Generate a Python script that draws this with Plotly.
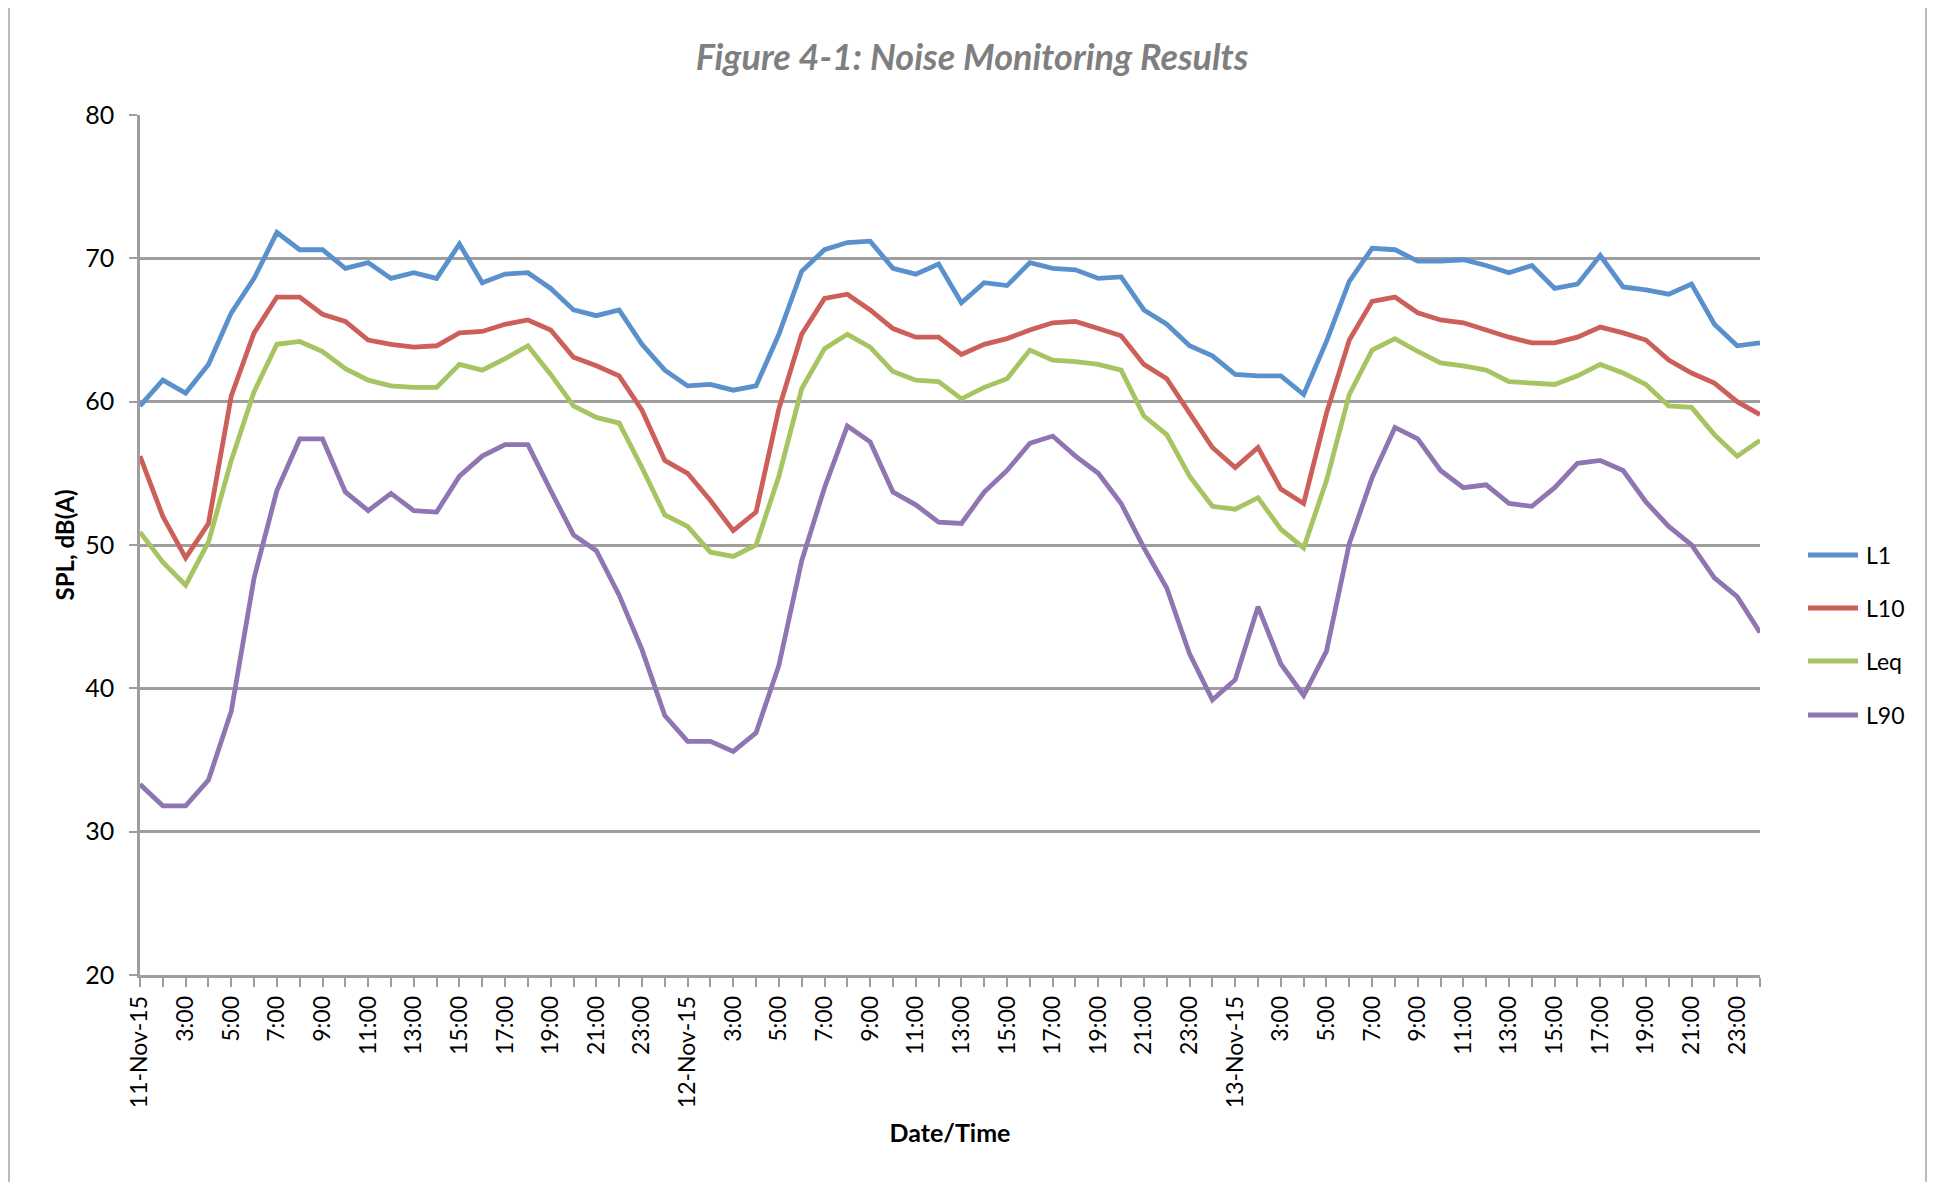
import plotly.graph_objects as go

# ---- data (hourly, 11-Nov-15 .. 13-Nov-15) ----
L1 = [59.7, 61.5, 60.6, 62.6, 66.2, 68.6, 71.8, 70.6, 70.6, 69.3, 69.7, 68.6, 69.0, 68.6, 71.0, 68.3,
      68.9, 69.0, 67.9, 66.4, 66.0, 66.4, 64.0, 62.2,
      61.1, 61.2, 60.8, 61.1, 64.7, 69.1, 70.6, 71.1, 71.2, 69.3, 68.9, 69.6, 66.9, 68.3, 68.1, 69.7,
      69.3, 69.2, 68.6, 68.7, 66.4, 65.4, 63.9, 63.2,
      61.9, 61.8, 61.8, 60.5, 64.2, 68.4, 70.7, 70.6, 69.8, 69.8, 69.9, 69.5, 69.0, 69.5, 67.9, 68.2,
      70.2, 68.0, 67.8, 67.5, 68.2, 65.4, 63.9, 64.1]
L10 = [56.2, 52.0, 49.1, 51.5, 60.4, 64.8, 67.3, 67.3, 66.1, 65.6, 64.3, 64.0, 63.8, 63.9, 64.8, 64.9,
       65.4, 65.7, 65.0, 63.1, 62.5, 61.8, 59.4, 55.9,
       55.0, 53.1, 51.0, 52.3, 59.5, 64.7, 67.2, 67.5, 66.4, 65.1, 64.5, 64.5, 63.3, 64.0, 64.4, 65.0,
       65.5, 65.6, 65.1, 64.6, 62.6, 61.6, 59.2, 56.8,
       55.4, 56.8, 53.9, 52.9, 59.2, 64.3, 67.0, 67.3, 66.2, 65.7, 65.5, 65.0, 64.5, 64.1, 64.1, 64.5,
       65.2, 64.8, 64.3, 62.9, 62.0, 61.3, 60.0, 59.1]
Leq = [50.9, 48.8, 47.2, 50.2, 55.9, 60.7, 64.0, 64.2, 63.5, 62.3, 61.5, 61.1, 61.0, 61.0, 62.6, 62.2,
       63.0, 63.9, 61.9, 59.7, 58.9, 58.5, 55.4, 52.1,
       51.3, 49.5, 49.2, 50.0, 54.8, 60.9, 63.7, 64.7, 63.8, 62.1, 61.5, 61.4, 60.2, 61.0, 61.6, 63.6,
       62.9, 62.8, 62.6, 62.2, 59.0, 57.7, 54.8, 52.7,
       52.5, 53.3, 51.1, 49.8, 54.5, 60.5, 63.6, 64.4, 63.5, 62.7, 62.5, 62.2, 61.4, 61.3, 61.2, 61.8,
       62.6, 62.0, 61.2, 59.7, 59.6, 57.7, 56.2, 57.3]
L90 = [33.3, 31.8, 31.8, 33.6, 38.4, 47.7, 53.8, 57.4, 57.4, 53.7, 52.4, 53.6, 52.4, 52.3, 54.8, 56.2,
       57.0, 57.0, 53.8, 50.7, 49.6, 46.5, 42.7, 38.1,
       36.3, 36.3, 35.6, 36.9, 41.6, 48.9, 54.0, 58.3, 57.2, 53.7, 52.8, 51.6, 51.5, 53.7, 55.2, 57.1,
       57.6, 56.2, 55.0, 52.9, 49.8, 47.0, 42.4, 39.2,
       40.6, 45.7, 41.7, 39.5, 42.6, 50.1, 54.7, 58.2, 57.4, 55.2, 54.0, 54.2, 52.9, 52.7, 54.0, 55.7,
       55.9, 55.2, 53.0, 51.3, 50.0, 47.7, 46.4, 43.9]

days = ["11-Nov-15", "12-Nov-15", "13-Nov-15"]
hour_labels = ["3:00", "5:00", "7:00", "9:00", "11:00", "13:00", "15:00", "17:00", "19:00",
               "21:00", "23:00"]
series_names = ["L1", "L10", "Leq", "L90"]
series_colors = ["#5A91CC", "#CC5F59", "#A6C461", "#8F75B2"]

x = list(range(len(L1)))
tick_vals = []
tick_text = []
for d, day in enumerate(days):
    tick_vals.append(d * 24)
    tick_text.append(day)
    for k, h in enumerate(hour_labels):
        tick_vals.append(d * 24 + 2 * (k + 1))
        tick_text.append(h)

fig = go.Figure()
for name, vals, col in zip(series_names, [L1, L10, Leq, L90], series_colors):
    fig.add_trace(go.Scatter(x=x, y=vals, mode="lines", name=name, showlegend=False,
                             line=dict(color=col, width=4.8)))

# page has an 8px body margin; margins below are chosen so the plot area sits at
# page x 140..1760, page y 115..975
OFF = 8
W, H = 1942, 1182
ml, mt = 132, 107
pw, ph = 1620, 860
mr, mb = W - ml - pw, H - mt - ph


def px_x(page_x):
    return (page_x - OFF - ml) / pw


def px_y(page_y):
    return (OFF + mt + ph - page_y) / ph


fig.update_layout(
    width=W, height=H,
    margin=dict(l=ml, r=mr, t=mt, b=mb, pad=0),
    paper_bgcolor="white", plot_bgcolor="white",
    font=dict(family="Lato, Open Sans, sans-serif", color="black", size=22),
    title=dict(text="<b><i>Figure 4-1: Noise Monitoring Results</i></b>",
               x=px_x(972), xref="paper", xanchor="center",
               y=1 - (57 - OFF) / H, yref="container", yanchor="middle",
               font=dict(family="Lato, sans-serif", size=36, color="#7F7F7F")),
    showlegend=False,
    xaxis=dict(
        range=[0, len(L1) - 1],
        tickmode="array", tickvals=tick_vals, ticktext=tick_text, tickangle=-90,
        tickfont=dict(family="Lato, sans-serif", size=23, color="black"),
        ticks="outside", ticklen=9, tickcolor="#9E9E9E", tickwidth=1.5,
        minor=dict(tickmode="linear", tick0=0, dtick=1, ticks="outside", ticklen=9,
                   tickcolor="#9E9E9E", tickwidth=1.5, showgrid=False),
        showgrid=False, zeroline=False,
        showline=True, linecolor="#9E9E9E", linewidth=2.5,
        title=dict(text="<b>Date/Time</b>", font=dict(family="Lato, sans-serif", size=25),
                   standoff=18),
    ),
    yaxis=dict(
        range=[20, 80], tickmode="linear", tick0=20, dtick=10,
        tickfont=dict(family="Lato, sans-serif", size=25, color="black"),
        ticklabelstandoff=10,
        ticks="outside", ticklen=8, tickcolor="#9E9E9E", tickwidth=2,
        showgrid=True, gridcolor="#9E9E9E", gridwidth=2.5,
        zeroline=False, showline=True, linecolor="#9E9E9E", linewidth=2.5,
        title=dict(text="<b>SPL, dB(A)</b>", font=dict(family="Lato, sans-serif", size=24),
                   standoff=4),
    ),
)

# legend drawn as line samples + labels to the right of the plot area
legend_y = [555, 608, 661, 715]
for name, col, yy in zip(series_names, series_colors, legend_y):
    fig.add_shape(type="line", xref="paper", yref="paper",
                  x0=px_x(1808), x1=px_x(1858), y0=px_y(yy), y1=px_y(yy),
                  line=dict(color=col, width=5))
    fig.add_annotation(xref="paper", yref="paper", x=px_x(1864), y=px_y(yy),
                       xanchor="left", yanchor="middle", showarrow=False, text=name,
                       font=dict(family="Lato, sans-serif", size=23, color="black"))

# outer chart frame
fig.add_shape(type="rect", xref="paper", yref="paper",
              x0=px_x(9), x1=px_x(1926), y0=px_y(1200), y1=px_y(6),
              line=dict(color="#A6A6A6", width=1.5), fillcolor="rgba(0,0,0,0)", layer="below")

fig.write_html("out.html")
